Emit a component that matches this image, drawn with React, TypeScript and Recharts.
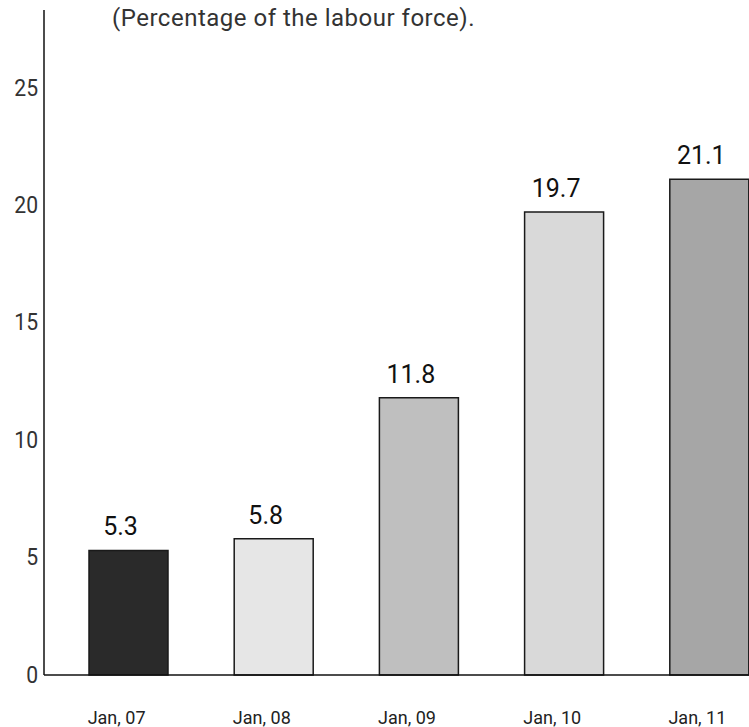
import { BarChart, Bar, XAxis, YAxis, Cell, LabelList } from 'recharts';

// categories and values
const months = ['Jan, 07', 'Jan, 08', 'Jan, 09', 'Jan, 10', 'Jan, 11'];
const rates = [5.3, 5.8, 11.8, 19.7, 21.1];
const barFills = ['#2a2a2a', '#e6e6e6', '#bfbfbf', '#d9d9d9', '#a6a6a6'];
const yTicks = [0, 5, 10, 15, 20, 25];

const FONT = 'Roboto, "Liberation Sans", Arial, sans-serif';

const data = months.map((m, i) => ({ month: m, rate: rates[i] }));

function YTick({ x, y, payload }: any) {
  return (
    <text
      transform={`translate(${x},${y}) scale(0.88,1)`}
      textAnchor="end"
      dominantBaseline="central"
      fontFamily={FONT}
      fontSize={24}
      fill="#333"
    >
      {payload.value}
    </text>
  );
}

function XTick({ x, y, payload }: any) {
  return (
    <text
      x={x - 12}
      y={y + 34}
      textAnchor="middle"
      dominantBaseline="central"
      fontFamily={FONT}
      fontSize={18}
      fill="#222"
    >
      {payload.value}
    </text>
  );
}

function ValueLabel({ x, y, width, value }: any) {
  return (
    <text
      x={x + width / 2 - 8}
      y={y - 15}
      textAnchor="middle"
      fontFamily={FONT}
      fontSize={25}
      fill="#111"
    >
      {value}
    </text>
  );
}

export default function App() {
  return (
    <div
      style={{
        position: 'fixed',
        left: 0,
        top: 0,
        width: 749,
        height: 727,
        overflow: 'hidden',
        background: '#fff',
      }}
    >
      <div
        style={{
          position: 'absolute',
          left: 112,
          top: 4,
          fontFamily: FONT,
          fontSize: 24,
          letterSpacing: 0.5,
          color: '#333',
          whiteSpace: 'nowrap',
        }}
      >
        (Percentage of the labour force).
      </div>
      <BarChart
        width={800}
        height={727}
        data={data}
        margin={{ top: 10, right: 18, left: 0, bottom: 22 }}
      >
        <YAxis
          type="number"
          domain={[0, 28.3]}
          ticks={yTicks}
          width={44}
          axisLine={{ stroke: '#111', strokeWidth: 1.5 }}
          tickLine={false}
          tickMargin={0}
          tick={<YTick />}
          interval={0}
        />
        <XAxis
          dataKey="month"
          height={30}
          padding={{ left: 12, right: 0 }}
          axisLine={{ stroke: '#111', strokeWidth: 1.5 }}
          tickLine={false}
          tick={<XTick />}
          interval={0}
        />
        <Bar
          dataKey="rate"
          barSize={79}
          stroke="#1a1a1a"
          strokeWidth={1.5}
          isAnimationActive={false}
        >
          {data.map((d, i) => (
            <Cell key={d.month} fill={barFills[i]} />
          ))}
          <LabelList dataKey="rate" content={<ValueLabel />} />
        </Bar>
      </BarChart>
    </div>
  );
}
